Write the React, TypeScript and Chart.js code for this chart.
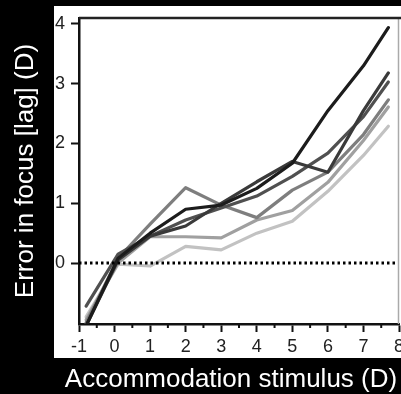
import React, { useEffect, useRef } from "react";
import { Chart, registerables } from "chart.js";
Chart.register(...registerables);

// ---- data ----
const STIMULUS = [-0.8, 0.1, 1, 2, 3, 4, 5, 6, 7, 7.7];
const SERIES_1 = [-1.05, 0.08, 0.5, 0.9, 0.97, 1.25, 1.67, 2.55, 3.3, 3.94];
const SERIES_2 = [-1.05, 0.05, 0.45, 0.62, 1.0, 1.36, 1.7, 1.52, 2.55, 3.18];
const SERIES_3 = [-0.72, 0.15, 0.45, 0.72, 0.92, 1.12, 1.45, 1.84, 2.45, 3.03];
const SERIES_4 = [-1.0, 0.08, 0.65, 1.26, 0.97, 0.76, 1.22, 1.52, 2.15, 2.73];
const SERIES_5 = [-0.95, 0.0, 0.44, 0.44, 0.42, 0.72, 0.88, 1.35, 2.05, 2.61];
const SERIES_6 = [-0.9, -0.02, -0.05, 0.28, 0.22, 0.5, 0.7, 1.2, 1.8, 2.29];
const SERIES = [SERIES_1, SERIES_2, SERIES_3, SERIES_4, SERIES_5, SERIES_6];
const SERIES_COLORS = ["#1c1c1c", "#3a3a3a", "#505050", "#7e7e7e", "#a0a0a0", "#c2c2c2"];

const X_TICKS = [-1, 0, 1, 2, 3, 4, 5, 6, 7, 8];
const X_MINOR_TICKS = [-0.5, 0.5, 1.5, 2.5, 3.5, 4.5, 5.5, 6.5, 7.5];
const Y_TICKS = [0, 1, 2, 3, 4];
const X_RANGE = [-1, 8];
const Y_RANGE = [-1.02, 4.1];
const ZERO_LINE = [0, 0];
const X_TITLE = "Accommodation stimulus (D)";
const Y_TITLE = "Error in focus [lag] (D)";

const FONT = '"Liberation Sans", Arial, sans-serif';

const framePlugin = {
  id: "frame",
  beforeDraw(chart: any) {
    const { ctx, width, height } = chart;
    ctx.save();
    ctx.fillStyle = "#000";
    ctx.fillRect(0, 0, width, height);
    ctx.fillStyle = "#fff";
    ctx.fillRect(54, 6, width - 54, 352);
    ctx.restore();
  },
  afterDraw(chart: any) {
    const { ctx, chartArea, scales, width } = chart;
    const xs = scales.x;
    ctx.save();
    // minor ticks
    ctx.strokeStyle = "#111";
    ctx.lineWidth = 2;
    X_MINOR_TICKS.forEach((v) => {
      const px = xs.getPixelForValue(v);
      ctx.beginPath();
      ctx.moveTo(px, chartArea.bottom);
      ctx.lineTo(px, chartArea.bottom + 4);
      ctx.stroke();
    });
    // top and right frame
    ctx.strokeStyle = "#aaa";
    ctx.lineWidth = 1.5;
    ctx.beginPath();
    ctx.moveTo(chartArea.right - 0.5, chartArea.top);
    ctx.lineTo(chartArea.right - 0.5, chartArea.bottom);
    ctx.stroke();
    ctx.strokeStyle = "#222";
    ctx.lineWidth = 2.5;
    ctx.beginPath();
    ctx.moveTo(chartArea.left, chartArea.top);
    ctx.lineTo(width, chartArea.top);
    ctx.stroke();
    // axis titles
    ctx.fillStyle = "#fff";
    ctx.font = `26px ${FONT}`;
    ctx.textAlign = "center";
    ctx.textBaseline = "alphabetic";
    ctx.fillText(X_TITLE, 231, 387);
    ctx.translate(33, 171);
    ctx.rotate(-Math.PI / 2);
    ctx.fillText(Y_TITLE, 0, 0);
    ctx.restore();
  },
};

export default function App() {
  const ref = useRef<HTMLCanvasElement>(null);
  useEffect(() => {
    if (!ref.current) return;
    const datasets: any[] = [
      {
        data: X_RANGE.map((x, i) => ({ x, y: ZERO_LINE[i] })),
        borderColor: "#000",
        borderWidth: 3,
        borderDash: [2.5, 3],
        pointRadius: 0,
        order: 0,
      },
      ...SERIES.map((s, i) => ({
        data: STIMULUS.map((x, j) => ({ x, y: s[j] })),
        borderColor: SERIES_COLORS[i],
        borderWidth: 3.2,
        pointRadius: 0,
        tension: 0,
        borderJoinStyle: "round",
        borderCapStyle: "round",
        order: i + 1,
      })),
    ];
    const chart = new Chart(ref.current, {
      type: "line",
      data: { datasets },
      plugins: [framePlugin],
      options: {
        animation: false,
        responsive: false,
        layout: { padding: { left: 0, right: 2, top: 18, bottom: 0 } },
        plugins: { legend: { display: false }, tooltip: { enabled: false } },
        scales: {
          x: {
            type: "linear",
            min: X_RANGE[0],
            max: X_RANGE[1],
            afterBuildTicks: (s: any) => {
              s.ticks = X_TICKS.map((v) => ({ value: v }));
            },
            afterFit: (s: any) => {
              s.height = 70;
              s.paddingLeft = 0;
              s.paddingRight = 0;
            },
            ticks: {
              color: "#222",
              font: { family: FONT, size: 18 },
              padding: 4,
              autoSkip: false,
              maxRotation: 0,
              callback: (v: any) => String(v),
            },
            grid: {
              drawOnChartArea: false,
              drawTicks: true,
              tickLength: 8,
              tickColor: "#111",
              tickWidth: 2,
            },
            border: { display: true, color: "#111", width: 2.5 },
          },
          y: {
            type: "linear",
            min: Y_RANGE[0],
            max: Y_RANGE[1],
            afterBuildTicks: (s: any) => {
              s.ticks = Y_TICKS.map((v) => ({ value: v }));
            },
            afterFit: (s: any) => {
              s.width = 79;
              s.paddingTop = 0;
              s.paddingBottom = 0;
            },
            ticks: {
              color: "#222",
              font: { family: FONT, size: 18 },
              padding: 6,
              callback: (v: any) => String(v),
            },
            grid: {
              drawOnChartArea: false,
              drawTicks: true,
              tickLength: 8,
              tickColor: "#111",
              tickWidth: 2,
            },
            border: { display: true, color: "#111", width: 2.5 },
          },
        },
      },
    });
    return () => chart.destroy();
  }, []);
  return (
    <div
      style={{
        position: "fixed",
        left: 0,
        top: 0,
        width: 401,
        height: 394,
        background: "#000",
        overflow: "hidden",
      }}
    >
      <canvas ref={ref} width={401} height={394} style={{ display: "block" }} />
    </div>
  );
}
